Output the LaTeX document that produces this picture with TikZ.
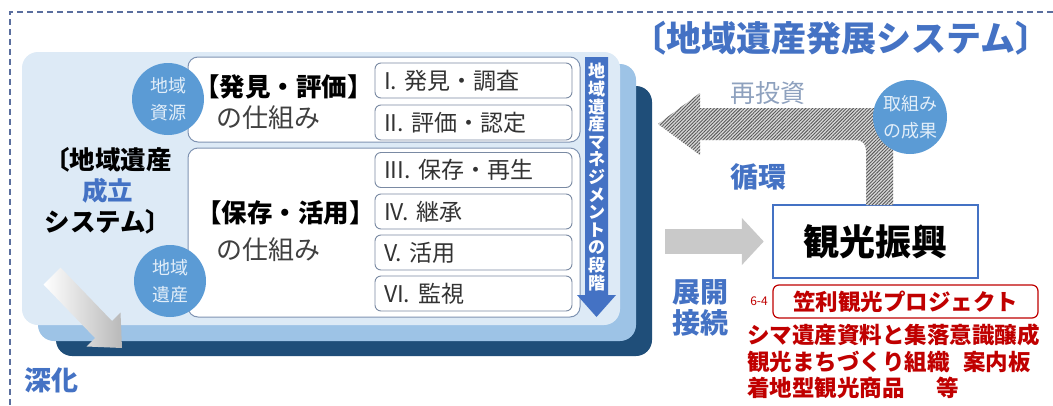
\documentclass[tikz,border=0pt]{standalone}
\usepackage{fontspec}
\setmainfont{Noto Sans CJK JP}
\usepackage{xcolor}
\usepackage{tikz}
\usetikzlibrary{calc, arrows.meta, positioning, patterns.meta}

\definecolor{cardfront}{HTML}{DDEAF6}
\definecolor{cardmid}{HTML}{9DC3E6}
\definecolor{cardback}{HTML}{1F4E79}
\definecolor{badgeblue}{HTML}{5B9BD5}
\definecolor{badgetext}{HTML}{E2EEF9}
\definecolor{sysblue}{HTML}{4472C4}
\definecolor{frameline}{HTML}{7F93B2}
\definecolor{stepline}{HTML}{7A8AA3}
\definecolor{kasared}{HTML}{C00000}
\definecolor{investgray}{HTML}{8EA1BE}
\definecolor{flowgray}{HTML}{C9C9C9}
\definecolor{dashblue}{HTML}{5A6E9E}
\newcommand{\fs}[2]{\fontsize{#1}{#2}\selectfont}

\begin{document}
\begin{tikzpicture}[
    x=1pt, y=-1pt,
    card/.style={rectangle, rounded corners=16pt, inner sep=0pt},
    frame/.style={rectangle, draw=frameline, fill=white, line width=1pt, rounded corners=10pt, inner sep=0pt, minimum width=392pt},
    stepbox/.style={rectangle, draw=stepline, fill=white, line width=0.9pt, rounded corners=6pt, minimum width=197pt, minimum height=35pt, text width=179pt, align=left, inner sep=0pt, font=\fs{23}{26}, text=black!80},
    badge/.style={circle, fill=badgeblue, minimum size=72pt, inner sep=0pt, align=center, text=badgetext, font=\fs{18}{27}},
    heading/.style={anchor=west, inner sep=0pt, font=\bfseries\fs{25.5}{28}},
    sub/.style={anchor=west, inner sep=0pt, font=\fs{26}{28}, text=black!75},
    bluelbl/.style={inner sep=0pt, align=center, text=sysblue, font=\bfseries\fs{27}{31}},
    redlbl/.style={inner sep=0pt, text=kasared, font=\bfseries\fs{22.5}{26.5}}
]
    \useasboundingbox (0,0) rectangle (1053,405);
    \fill[white] (0,0) rectangle (1053,405);

    % Outer dashed frame (top and left)
    \draw[dashblue, line width=1.3pt, dash pattern=on 6pt off 4pt] (1053,12) -- (10,12) -- (10,405);

    % Stacked cards of the left system
    \node[card, fill=cardback, minimum width=596pt, minimum height=270pt] (back) at (354,221) {};
    \node[card, fill=cardmid, minimum width=598pt, minimum height=277pt] (mid) at (337,202.5) {};
    \node[card, fill=cardfront, minimum width=598pt, minimum height=273pt] (front) at (321,188.5) {};

    % Deepening arrow
    \shade[left color=white, right color=gray!55] (60.5,267.5) -- (112,321) -- (120.5,312.5) -- (122,348) -- (86.5,346.5) -- (95,338) -- (43.5,284.5) -- cycle;

    % Mechanism frames
    \node[frame, minimum height=85pt] (findframe) at (384,99.5) {};
    \node[frame, minimum height=169pt] (useframe) at (384,232.5) {};

    % Stage boxes
    \node[stepbox] (s1) at (473.5,80.5) {I. 発見・調査};
    \node[stepbox] (s2) at (473.5,122.5) {II. 評価・認定};
    \node[stepbox] (s3) at (473.5,170) {III. 保存・再生};
    \node[stepbox] (s4) at (473.5,211.5) {IV. 継承};
    \node[stepbox] (s5) at (473.5,252.5) {V. 活用};
    \node[stepbox] (s6) at (473.5,293.5) {VI. 監視};

    % Mechanism labels
    \node[heading] (findhead) at (194,87) {【発見・評価】};
    \node[sub] (findsub) at (216,118) {の仕組み};
    \node[heading] (usehead) at (196,213) {【保存・活用】};
    \node[sub] (usesub) at (216,250) {の仕組み};

    % Badges
    \node[badge] (resource) at (168,99) {地域\\資源};
    \node[badge] (heritage) at (170,281) {地域\\遺産};

    % System name and deepening label
    \node[inner sep=0pt, align=center, font=\bfseries\fs{25.5}{31}] (sysname) at (108,191) {〔地域遺産\\\textcolor{sysblue}{成立}\\システム〕};
    \node[bluelbl] (deepen) at (51,380) {深化};

    % Management stages arrow
    \fill[sysblue] (585,57) -- (608,57) -- (608,295) -- (616,295) -- (596.5,317) -- (577,295) -- (585,295) -- cycle;
    \node[inner sep=0pt, align=center, text=white, font=\bfseries\fs{17}{17.6}] (stages) at (596.5,177) {地\\域\\遺\\産\\マ\\ネ\\ジ\\メ\\ン\\ト\\の\\段\\階};

    % Right side: development system
    \node[inner sep=0pt, text=sysblue, font=\bfseries\fs{35}{38}] (title) at (841,38) {〔地域遺産発展システム〕};
    \node[inner sep=0pt, text=investgray, font=\fs{25}{28}] (invest) at (768,93) {再投資};

    \node[rectangle, draw=sysblue, fill=white, line width=2.5pt, minimum width=205pt, minimum height=73pt, font=\bfseries\fs{36}{40}] (tour) at (875.5,241.5) {観光振興};

    % Reinvestment loop arrow (hatched)
    \path[fill=gray!30, postaction={pattern={Lines[angle=45, distance=2.4pt, line width=0.9pt]}, pattern color=black!65}]
        (866,205) -- (866,150) .. controls (866,144) and (862,140) .. (856,140) -- (700,140) -- (700,155) -- (658,124) -- (700,93) -- (700,108) -- (874,108) .. controls (885,108) and (893,116) .. (893,127) -- (893,205) -- cycle;
    \node[badge, minimum size=74pt] (result) at (910,117) {取組み\\の成果};
    \node[bluelbl, font=\bfseries\fs{28}{31}] (cycle) at (758,177) {循環};

    % Deployment arrow
    \draw[flowgray, line width=25pt, -{Triangle[length=22pt, width=46pt]}] ($(back.east |- tour.west)+(13,0)$) -- ([xshift=-8pt]tour.west);
    \node[bluelbl, font=\bfseries\fs{28}{31}] (deploy) at (700,307.5) {展開\\接続};

    % Kasari project
    \node[inner sep=0pt, text=kasared, font=\fs{12}{14}] (code) at (759,301) {6-4};
    \node[rectangle, draw=kasared, line width=1.2pt, rounded corners=6pt, minimum width=265pt, minimum height=33pt, inner sep=0pt, text=kasared, font=\bfseries\fs{22.5}{26}] (project) at (905.5,301.5) {笠利観光プロジェクト};
    \node[redlbl, anchor=west, align=left] (projlist) at (747,361.5) {シマ遺産資料と集落意識醸成\\観光まちづくり組織\hspace{0.6em}案内板\\着地型観光商品\hspace{1.4em}等};

\end{tikzpicture}
\end{document}
